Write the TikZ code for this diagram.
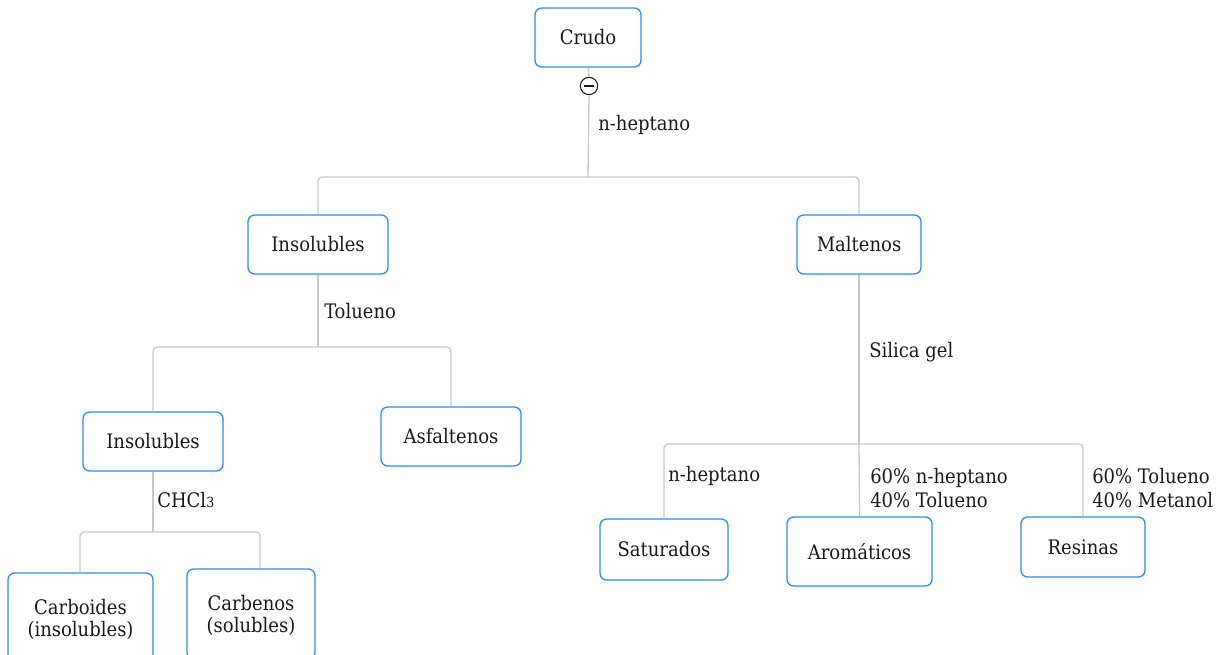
\documentclass[tikz,border=0pt]{standalone}
\usepackage{fontspec}
\setmainfont{DejaVu Serif Condensed}
\definecolor{boxblue}{RGB}{45,140,235}
\definecolor{conngray}{RGB}{200,200,200}
\definecolor{txt}{RGB}{25,25,25}
\begin{document}
\begin{tikzpicture}[x=0.75pt,y=-0.75pt,
  box/.style={draw=boxblue,line width=1pt,rounded corners=5pt,fill=white,
    text=txt,align=center,inner sep=0pt,font=\fontsize{15}{18.5}\selectfont},
  conn/.style={draw=conngray,line width=1pt,rounded corners=3pt},
  lbl/.style={anchor=west,text=txt,align=left,inner sep=0pt,
    font=\fontsize{15}{18}\selectfont}]
\path[use as bounding box] (0,0) rectangle (1226,655);
\clip (0,0) rectangle (1226,655);
\fill[white] (0,0) rectangle (1226,655);

% coordinates for junctions
\coordinate (j1) at (588,177);
\coordinate (j2) at (318,347);
\coordinate (j3) at (153,532);
\coordinate (j4) at (859,444);
\coordinate (xcb) at (80,0);
\coordinate (xcn) at (260,0);

\node[box,minimum width=79.5pt,minimum height=44.25pt] (crudo) at (588,37.5) {Crudo};
\node[draw=txt,fill=white,circle,line width=0.8pt,minimum size=13pt,inner sep=0pt] (minus) at (589,86) {};
\draw[conngray,line width=1pt] (crudo.south) -- (minus.north);
\draw[conngray,line width=1pt] (minus.south) -- (j1);
\draw[txt,line width=1pt] ([xshift=-3.5pt]minus.center) -- ([xshift=3.5pt]minus.center);

\node[box,minimum width=105pt,minimum height=44.25pt] (ins1) at (318,244.5) {Insolubles};
\node[box,minimum width=93pt,minimum height=44.25pt] (malt) at (859,244.5) {Maltenos};
\draw[conn] (j1) -| (ins1.north);
\draw[conn] (j1) -| (malt.north);

\node[box,minimum width=105pt,minimum height=44.25pt] (ins2) at (153,441.5) {Insolubles};
\node[box,minimum width=105pt,minimum height=44.25pt] (asf) at (451,436.5) {Asfaltenos};
\draw[conn] (ins1.south) -- (j2);
\draw[conn] (j2) -| (ins2.north);
\draw[conn] (j2) -| (asf.north);

\node[box,minimum width=108.75pt,minimum height=67.5pt] (carbo) at (80.5,618) {\strut Carboides\\[-2pt](insolubles)};
\node[box,minimum width=96pt,minimum height=67.5pt] (carbe) at (251,614) {\strut Carbenos\\[-2pt](solubles)};
\draw[conn] (ins2.south) -- (j3);
\draw[conn] (j3) -| (carbo.north -| xcb);
\draw[conn] (j3) -| (carbe.north -| xcn);

\node[box,minimum width=96pt,minimum height=45.75pt] (sat) at (664,549.5) {Saturados};
\node[box,minimum width=108.75pt,minimum height=51.75pt] (aro) at (859.5,551.5) {Aromáticos};
\node[box,minimum width=93pt,minimum height=45pt] (res) at (1083,547) {Resinas};
\draw[conn] (malt.south) -- (j4);
\draw[conn] (j4) -| (sat.north);
\draw[conn] (j4) -- (aro.north);
\draw[conn] (j4) -| (res.north);

% labels
\node[lbl] (l1) at (598,125) {n-heptano};
\node[lbl] (l2) at (324,311) {Tolueno};
\node[lbl] (l3) at (157,500) {CHCl{\fontsize{10.5}{12}\selectfont 3}};
\node[lbl] (l4) at (869,352) {Silica gel};
\node[lbl] (l5) at (668,476) {n-heptano};
\node[lbl] (l6) at (870,488) {60\% n-heptano\\40\% Tolueno};
\node[lbl] (l7) at (1092,488) {60\% Tolueno\\40\% Metanol};
\end{tikzpicture}
\end{document}
